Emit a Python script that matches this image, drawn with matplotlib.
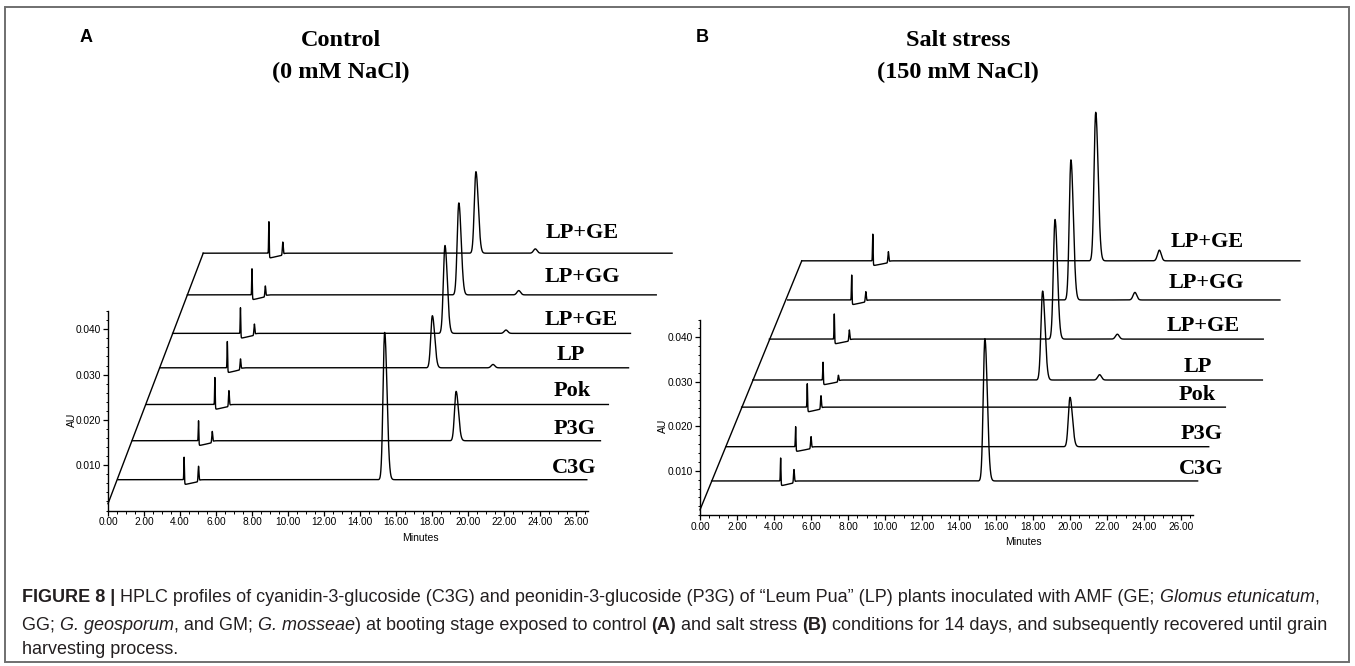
import numpy as np
import matplotlib
matplotlib.use("Agg")
import matplotlib.pyplot as plt
from matplotlib.patches import Rectangle
from matplotlib.ticker import FixedLocator, FormatStrFormatter
from matplotlib import font_manager

W, H, DPI = 1355, 666, 100

# ---------------- data ----------------
trace_labels = ["C3G", "P3G", "Pok", "LP", "LP+GE", "LP+GG", "LP+GE"]
x_ticks = [0, 2, 4, 6, 8, 10, 12, 14, 16, 18, 20, 22, 24, 26]
y_ticks = [0.010, 0.020, 0.030, 0.040]

# Panel A - Control (0 mM NaCl); minutes / AU as drawn on the front axes
a_start = [0.56, 1.35, 2.15, 2.89, 3.59, 4.41, 5.29]
a_end = [26.60, 27.36, 27.80, 28.92, 29.03, 30.46, 31.34]
a_base = [0.0068, 0.0154, 0.0234, 0.0315, 0.0391, 0.0476, 0.0568]
a_s1_t = [4.23, 5.03, 5.94, 6.63, 7.36, 8.00, 8.94]
a_s1_h = [0.0050, 0.0044, 0.0060, 0.0058, 0.0057, 0.0058, 0.0070]
a_s2_t = [5.03, 5.79, 6.72, 7.36, 8.13, 8.74, 9.71]
a_s2_h = [0.0034, 0.0025, 0.0035, 0.0024, 0.0025, 0.0024, 0.0029]
a_main_t = [15.37, 19.34, np.nan, 18.02, 18.72, 19.49, 20.44]
a_main_h = [0.0325, 0.0109, 0.0, 0.0115, 0.0194, 0.0203, 0.0180]
a_minor_t = [np.nan, np.nan, np.nan, 21.39, 22.11, 22.82, 23.74]
a_minor_h = [0.0, 0.0, 0.0, 0.00074, 0.00074, 0.00095, 0.00095]
a_label_t = [25.90, 25.90, 25.80, 25.73, 26.30, 26.34, 26.34]
a_label_gap = [0.0004, 0.0004, 0.0007, 0.0007, 0.0007, 0.0017, 0.0022]
a_diag0 = 0.0015

# Panel B - Salt stress (150 mM NaCl)
b_start = [0.63, 1.41, 2.25, 2.85, 3.75, 4.74, 5.50]
b_end = [26.90, 27.50, 28.40, 30.40, 30.45, 31.35, 32.43]
b_base = [0.0077, 0.0154, 0.0243, 0.0304, 0.0396, 0.0484, 0.0572]
b_s1_t = [4.36, 5.17, 5.80, 6.65, 7.26, 8.20, 9.34]
b_s1_h = [0.0052, 0.0045, 0.0053, 0.0040, 0.0057, 0.0056, 0.0060]
b_s2_t = [5.08, 6.00, 6.54, 7.48, 8.07, 8.96, 10.18]
b_s2_h = [0.0030, 0.0027, 0.0030, 0.0015, 0.0025, 0.0023, 0.0025]
b_main_t = [15.40, 20.00, np.nan, 18.52, 19.19, 20.05, 21.39]
b_main_h = [0.0320, 0.0111, 0.0, 0.0200, 0.0269, 0.0315, 0.0334]
b_minor_t = [np.nan, np.nan, np.nan, 21.60, 22.56, 23.51, 24.83]
b_minor_h = [0.0, 0.0, 0.0, 0.0012, 0.0011, 0.0017, 0.0024]
b_label_t = [27.10, 27.10, 26.90, 26.90, 27.20, 27.39, 27.39]
b_label_gap = [0.0005, 0.0005, 0.0005, 0.0007, 0.0008, 0.0016, 0.0020]
b_diag0 = 0.0012

caption_lines = [
    [("FIGURE 8 | ", "bold", "normal"),
     ("HPLC profiles of cyanidin-3-glucoside (C3G) and peonidin-3-glucoside (P3G) of \u201cLeum Pua\u201d (LP) plants inoculated with AMF (GE; ", "normal", "normal"),
     ("Glomus etunicatum", "normal", "italic"),
     (",", "normal", "normal")],
    [("GG; ", "normal", "normal"),
     ("G. geosporum", "normal", "italic"),
     (", and GM; ", "normal", "normal"),
     ("G. mosseae", "normal", "italic"),
     (") at booting stage exposed to control ", "normal", "normal"),
     ("(A)", "bold", "normal"),
     (" and salt stress ", "normal", "normal"),
     ("(B)", "bold", "normal"),
     (" conditions for 14 days, and subsequently recovered until grain", "normal", "normal")],
    [("harvesting process.", "normal", "normal")],
]

# ---------------- helpers ----------------
names = {f.name for f in font_manager.fontManager.ttflist}
narrow = "Liberation Sans Narrow" if "Liberation Sans Narrow" in names else "Liberation Sans"
serif = "Liberation Serif"


def curve(t0, t1, base, s1t, s1h, s2t, s2h, mt, mh, nt, nh):
    t = np.arange(t0, t1, 0.004)
    y = np.full_like(t, base)
    y += s1h * np.exp(-0.5 * ((t - s1t) / 0.016) ** 2)
    y += s2h * np.exp(-0.5 * ((t - s2t) / 0.024) ** 2)
    dip = 0.0011
    m = (t > s1t) & (t < s2t)
    frac = (t[m] - s1t) / (s2t - s1t)
    y[m] -= dip * (1 - 0.6 * frac) * (1 - np.exp(-(t[m] - s1t) / 0.02))
    m2 = t >= s2t
    y[m2] -= 0.4 * dip * np.exp(-(t[m2] - s2t) / 0.05)
    if not np.isnan(mt):
        sig = np.where(t < mt, 0.09, 0.13)
        y += mh * np.exp(-0.5 * ((t - mt) / sig) ** 2)
    if not np.isnan(nt):
        y += nh * np.exp(-0.5 * ((t - nt) / 0.1) ** 2)
    return t, y


fig = plt.figure(figsize=(W / DPI, H / DPI), dpi=DPI)
fig.patch.set_facecolor("white")

fig.add_artist(Rectangle((5 / W, 1 - 662 / H), (1349 - 5) / W, (662 - 7) / H,
                         transform=fig.transFigure, fill=False,
                         edgecolor="#6f6f6f", linewidth=1.4))


def panel(x0, pxm, y0, pxa, xlim, ylim, start, end, base, s1t, s1h, s2t, s2h,
          mt, mh, nt, nh, lab_t, lab_gap, diag0, xend, minutes_t, minutes_y, au_x):
    left = x0 + xlim[0] * pxm
    right = x0 + xlim[1] * pxm
    top = y0 - ylim[1] * pxa
    bottom = y0 - ylim[0] * pxa
    ax = fig.add_axes([left / W, 1 - bottom / H, (right - left) / W, (bottom - top) / H])
    ax.set_facecolor("none")
    ax.set_xlim(*xlim)
    ax.set_ylim(*ylim)
    for i in range(len(trace_labels)):
        t, y = curve(start[i], end[i], base[i], s1t[i], s1h[i], s2t[i], s2h[i],
                     mt[i], mh[i], nt[i], nh[i])
        ax.plot(t, y, color="black", lw=1.0, clip_on=False)
        ax.text(lab_t[i], base[i] + lab_gap[i], trace_labels[i], family=serif,
                fontweight="bold", fontsize=16, ha="center", va="bottom")
    ax.plot([0, start[-1]], [diag0, base[-1]], color="black", lw=1.0, clip_on=False)
    for s in ("top", "right"):
        ax.spines[s].set_visible(False)
    ax.spines["left"].set_position(("data", 0))
    ax.spines["bottom"].set_position(("data", 0))
    ax.spines["left"].set_bounds(0, 0.044)
    ax.spines["bottom"].set_bounds(0, xend)
    ax.spines["left"].set_linewidth(1.0)
    ax.spines["bottom"].set_linewidth(1.0)
    ax.set_xticks(x_ticks)
    ax.xaxis.set_major_formatter(FormatStrFormatter("%.2f"))
    ax.xaxis.set_minor_locator(FixedLocator(np.arange(0, xend + 0.01, 0.5)))
    ax.set_yticks(y_ticks)
    ax.yaxis.set_major_formatter(FormatStrFormatter("%.3f"))
    ax.yaxis.set_minor_locator(FixedLocator(np.arange(0, 0.0441, 0.002)))
    ax.tick_params(axis="both", which="major", length=3.5, width=0.9, labelsize=7.3,
                   pad=1.5)
    ax.tick_params(axis="both", which="minor", length=1.8, width=0.7)
    for lab in ax.get_xticklabels() + ax.get_yticklabels():
        lab.set_family(narrow)
    ax.set_xlabel("Minutes", family=narrow, fontsize=7.5)
    ax.xaxis.set_label_coords((minutes_t - xlim[0]) / (xlim[1] - xlim[0]),
                              (bottom - minutes_y) / (bottom - top))
    ax.xaxis.label.set_va("center")
    ax.set_ylabel("AU", family=narrow, fontsize=7.5)
    ax.yaxis.set_label_coords((au_x - left) / (right - left),
                              (0.020 - ylim[0]) / (ylim[1] - ylim[0]))
    ax.yaxis.label.set_va("center")
    return ax


# Panel A: t=0 at x=108 px, 18.0 px/min ; AU=0 at y=510.5 px, 4530 px/AU
panel(108, 18.0, 510.5, 4530, (-1.5, 34.0), (-0.004, 0.082),
      a_start, a_end, a_base, a_s1_t, a_s1_h, a_s2_t, a_s2_h,
      a_main_t, a_main_h, a_minor_t, a_minor_h, a_label_t, a_label_gap, a_diag0,
      26.65, 17.36, 538, 72)

# Panel B: t=0 at x=700 px, 18.5 px/min ; AU=0 at y=515.2 px, 4447 px/AU
panel(700, 18.5, 515.2, 4447, (-1.5, 34.0), (-0.004, 0.095),
      b_start, b_end, b_base, b_s1_t, b_s1_h, b_s2_t, b_s2_h,
      b_main_t, b_main_h, b_minor_t, b_minor_h, b_label_t, b_label_gap, b_diag0,
      26.65, 17.5, 542, 663)


def ftext(x, y, s, **kw):
    return fig.text(x / W, 1 - y / H, s, **kw)


ftext(80, 37, "A", family="Liberation Sans", fontweight="bold", fontsize=13,
      ha="left", va="center")
ftext(696, 37, "B", family="Liberation Sans", fontweight="bold", fontsize=13,
      ha="left", va="center")
for x, lines in ((341, ("Control", "(0 mM NaCl)")), (958, ("Salt stress", "(150 mM NaCl)"))):
    ftext(x, 40, lines[0], family=serif, fontweight="bold", fontsize=17.5, ha="center", va="center")
    ftext(x, 72, lines[1], family=serif, fontweight="bold", fontsize=17.5, ha="center", va="center")

# caption with mixed styles
renderer = fig.canvas.get_renderer()
cap_color = "#231f20"
cap_y = [598, 625, 650]


def place_line(segs, y, size):
    x = 22.0
    arts = []
    for s, wgt, sty in segs:
        tx = ftext(x, y, s, family=narrow, fontweight=wgt, fontstyle=sty,
                   fontsize=size, ha="left", va="center", color=cap_color)
        bb = tx.get_window_extent(renderer=renderer)
        x += bb.width
        arts.append(tx)
    return arts, x - 22.0


size = 11.5
arts, width = place_line(caption_lines[0], cap_y[0], size)
for a in arts:
    a.remove()
size = min(13.0, size * 1296.0 / width)
for segs, y in zip(caption_lines, cap_y):
    place_line(segs, y, size)

fig.savefig("out.png", dpi=DPI, facecolor="white")
